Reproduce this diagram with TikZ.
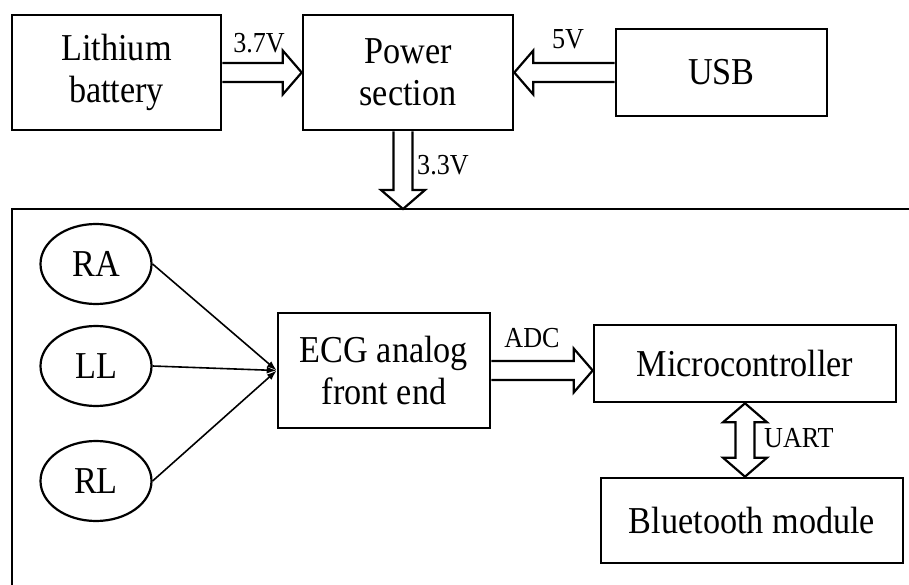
\documentclass[tikz,border=0pt]{standalone}
\usepackage{fontspec}
\setmainfont[FakeStretch=0.9]{Liberation Serif}
\usetikzlibrary{calc,arrows.meta,shapes.geometric}

\newcommand{\boxfont}{\fontsize{38}{42}\selectfont}
\newcommand{\tagfont}{\fontsize{29}{32}\selectfont}

\begin{document}
\begin{tikzpicture}[x=1pt,y=-1pt,
    block/.style={draw, line width=2.6pt, inner sep=0pt, align=center, font=\boxfont},
    lead/.style={draw, ellipse, line width=2.2pt, inner sep=0pt,
      minimum width=111pt, minimum height=80pt, font=\boxfont},
    wire/.style={line width=1.6pt, -{Latex[length=10pt,width=7pt]}},
    fat/.style={draw, line width=2.2pt, fill=white, line join=miter},
    tag/.style={inner sep=0pt, font=\tagfont}]

% fix the page to the size of the reference
\useasboundingbox (0,0) rectangle (909,585);

% sizes of the hollow arrows: half shaft, half head, head length
\def\sw{9.5pt}
\def\hw{22pt}
\def\hl{19pt}

% hollow arrow from #1 to #2
\def\hollow#1#2{%
  \coordinate (ha) at (#1);
  \coordinate (hb) at (#2);
  \coordinate (hh) at ($(hb)!\hl!(ha)$);
  \path[fat] ($(ha)!\sw!90:(hb)$) -- ($(hh)!\sw!90:(hb)$) -- ($(hh)!\hw!90:(hb)$)
    -- (hb) -- ($(hh)!\hw!-90:(hb)$) -- ($(hh)!\sw!-90:(hb)$) -- ($(ha)!\sw!-90:(hb)$);
}

% hollow arrow with a head at both ends
\def\hollowboth#1#2{%
  \coordinate (ha) at (#1);
  \coordinate (hb) at (#2);
  \coordinate (h1) at ($(ha)!\hl!(hb)$);
  \coordinate (h2) at ($(hb)!\hl!(ha)$);
  \path[fat] (ha) -- ($(h1)!\hw!90:(hb)$) -- ($(h1)!\sw!90:(hb)$) -- ($(h2)!\sw!90:(hb)$)
    -- ($(h2)!\hw!90:(hb)$) -- (hb) -- ($(h2)!\hw!-90:(hb)$) -- ($(h2)!\sw!-90:(hb)$)
    -- ($(h1)!\sw!-90:(hb)$) -- ($(h1)!\hw!-90:(hb)$) -- cycle;
}

% Power part
\node[block, minimum width=209pt, minimum height=115pt] (battery) at (116.5,72.5) {Lithium\\battery};
\node[block, minimum width=210pt, minimum height=115pt] (power) at (408,72.5) {Power\\section};
\node[block, minimum width=211pt, minimum height=87pt] (usb) at (721.5,72.5) {USB};

% Board frame, only its top and left sides are seen
\coordinate (feed) at (403,209);
\draw[line width=2.6pt] (909,209) -- (12,209) -- (12,585);

% Electrodes
\node[lead] (ra) at (96,264) {RA};
\node[lead] (ll) at (96,366) {LL};
\node[lead] (rl) at (96,481) {RL};

% Signal chain
\node[block, minimum width=212pt, minimum height=115pt] (afe) at (384,370.5) {ECG analog\\front end};
\node[block, minimum width=302pt, minimum height=77pt] (mcu) at (745,363.5) {Microcontroller};
\node[block, minimum width=302pt, minimum height=85pt] (bt) at (752,520.5) {Bluetooth module};

% Leads into the front end
\draw[wire] (ra.east) -- (afe.west);
\draw[wire] (ll.east) -- (afe.west);
\draw[wire] (rl.east) -- (afe.west);

% Hollow arrows
\hollow{battery.east}{power.west}
\hollow{usb.west}{power.east}
\hollow{power.south -| feed}{feed}
\hollow{afe.east}{afe.east -| mcu.west}
\hollowboth{mcu.south}{mcu.south |- bt.north}

% Arrow labels
\node[tag] (v37) at (259,43) {3.7V};
\node[tag] (v5) at (568,39) {5V};
\node[tag, anchor=west] (v33) at (417,165) {3.3V};
\node[tag] (adc) at (532,338) {ADC};
\node[tag, anchor=west] (uart) at (764,438) {UART};

\end{tikzpicture}
\end{document}
